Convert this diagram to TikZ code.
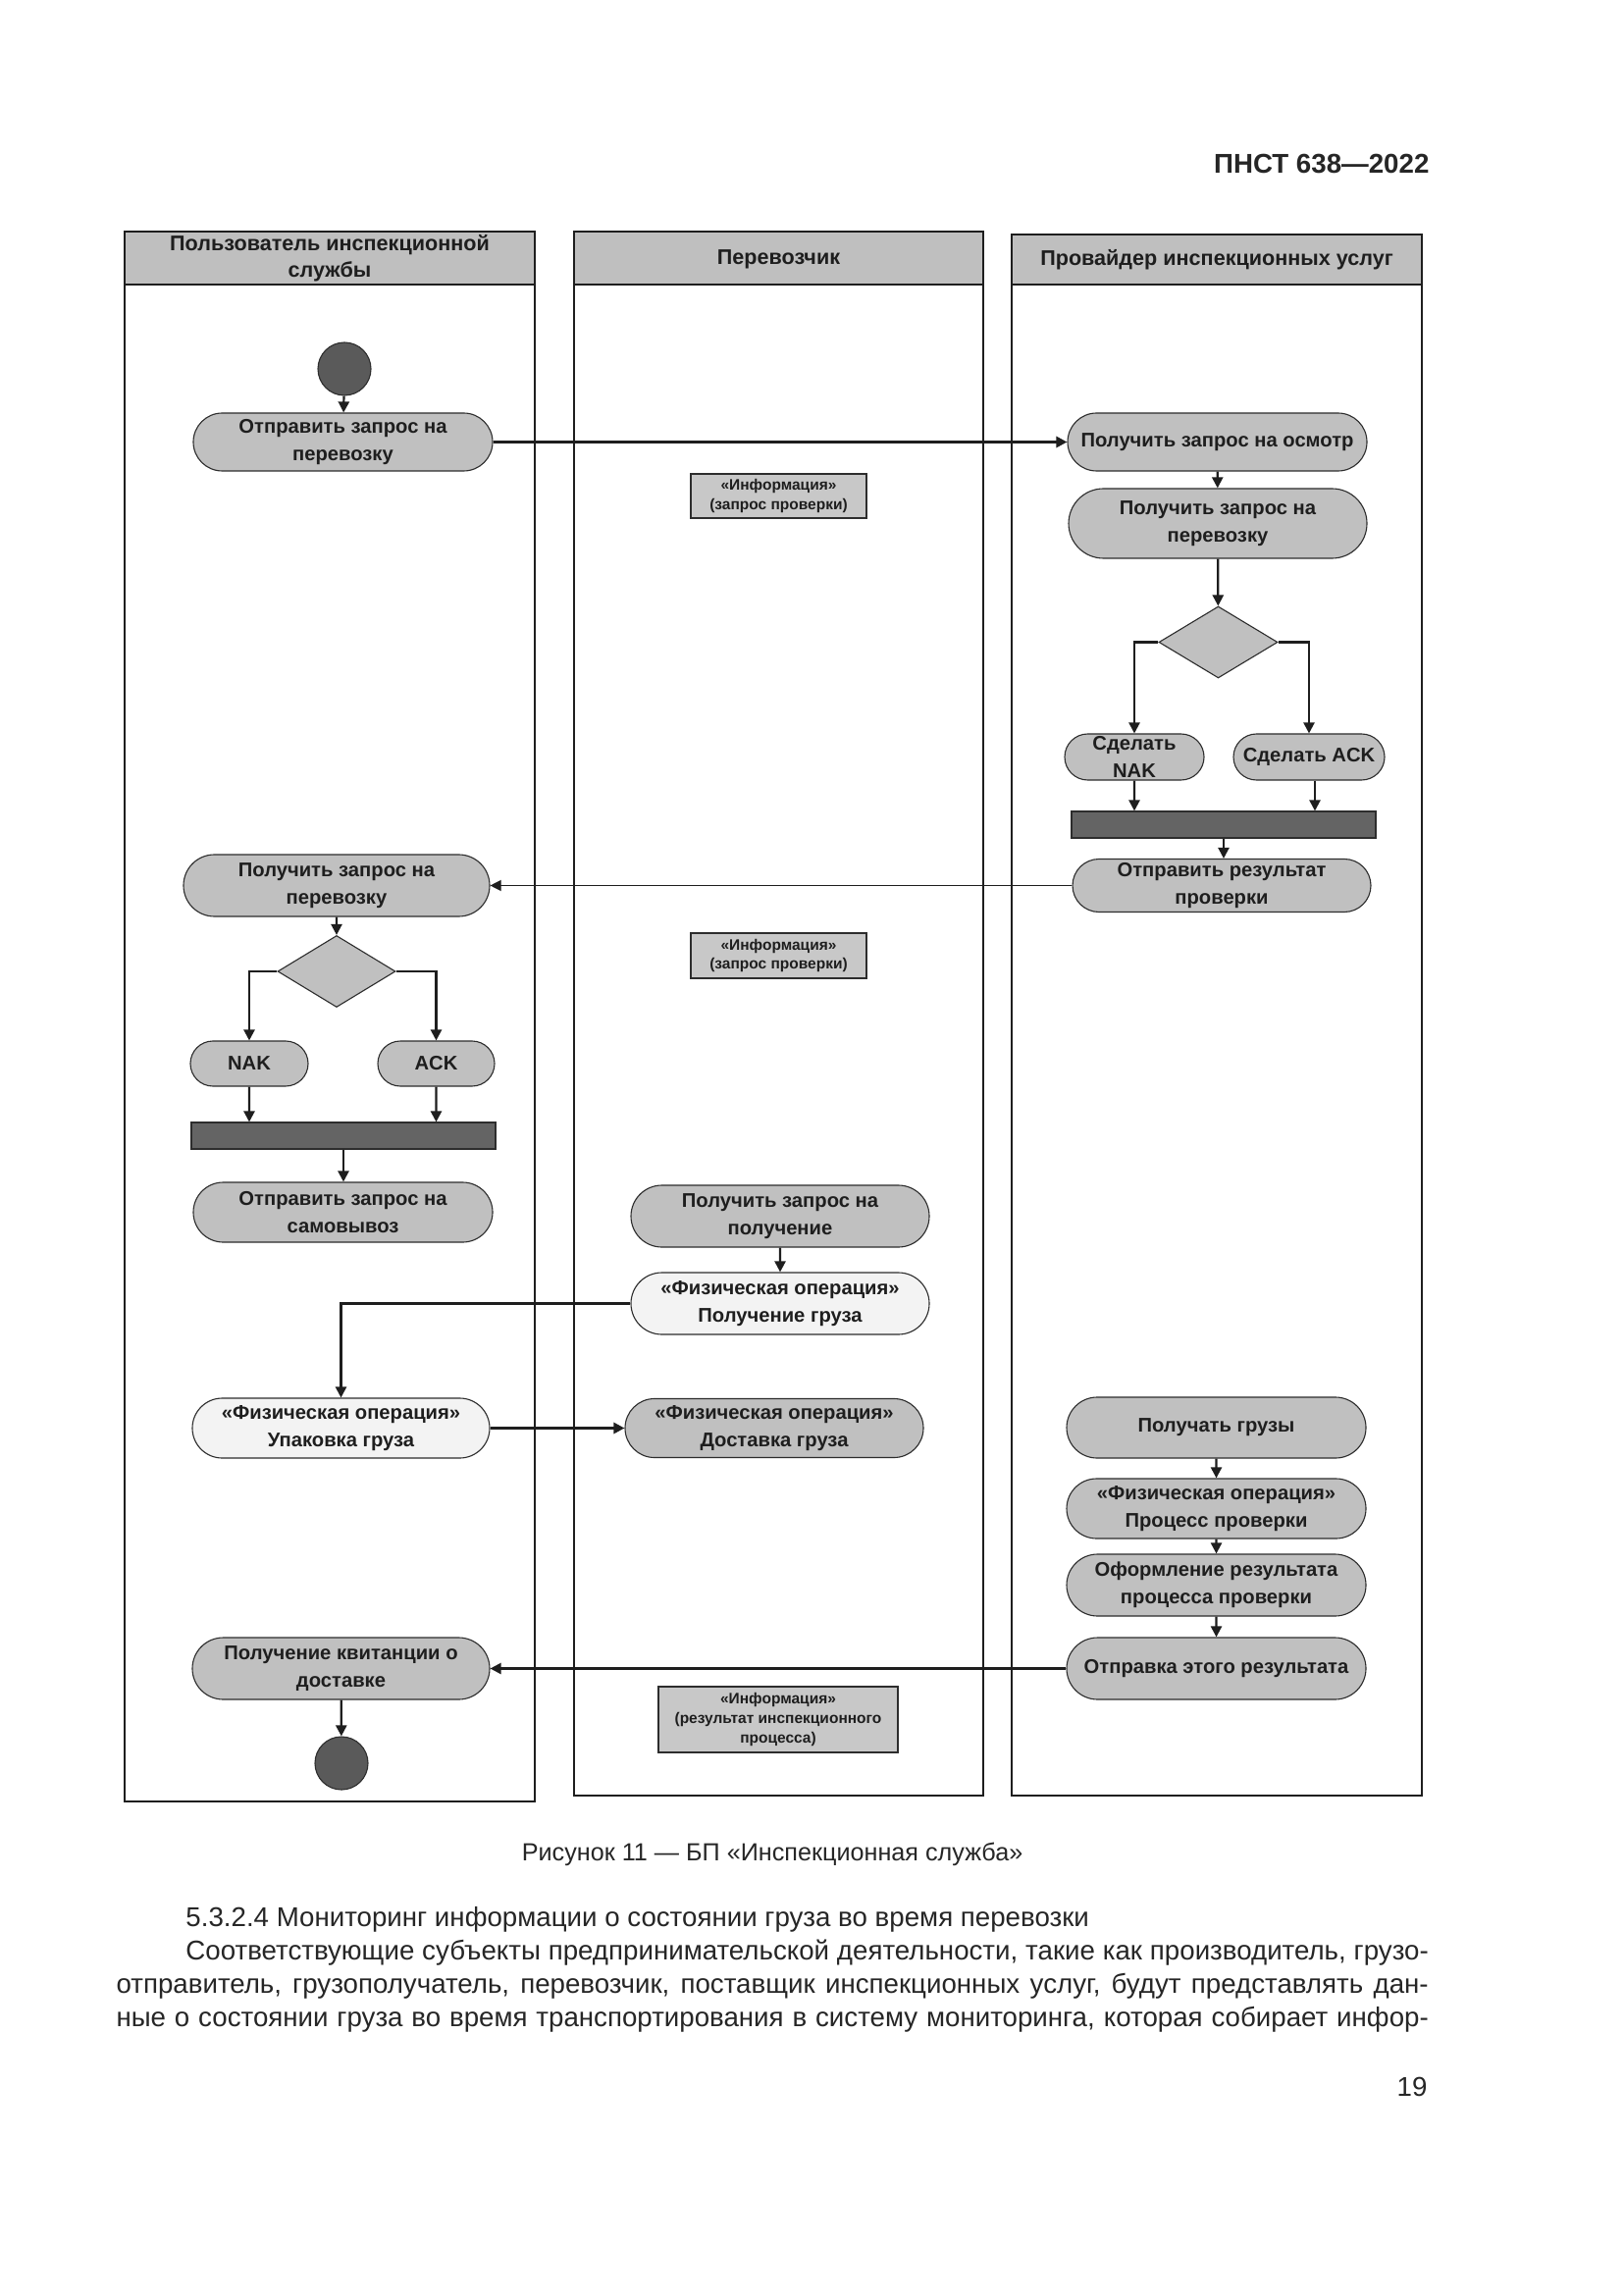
\documentclass[tikz,border=0pt]{standalone}
\usepackage{fontspec}
\setmainfont{Liberation Sans}
\usetikzlibrary{shapes.misc,shapes.geometric,arrows.meta,calc}
\def\ppx{0.3612pt}
\definecolor{nodegray}{RGB}{192,192,192}
\definecolor{hdrgray}{RGB}{191,191,191}
\definecolor{infogray}{RGB}{200,200,200}
\definecolor{bargray}{RGB}{100,100,100}
\definecolor{dotgray}{RGB}{90,90,90}
\definecolor{lightfill}{RGB}{243,243,243}
\definecolor{edgegray}{RGB}{45,45,45}
\definecolor{inkgray}{RGB}{30,30,30}
\tikzset{
  sz/.style 2 args={minimum width=#1*\ppx, minimum height=#2*\ppx},
  act/.style={rounded rectangle, draw=edgegray, line width=0.4pt, fill=nodegray,
    align=center, inner sep=0pt, text=inkgray, font=\fontsize{7.3}{10}\bfseries\selectfont},
  actw/.style={act, fill=lightfill},
  info/.style={rectangle, draw=edgegray, line width=0.5pt, fill=infogray, align=center,
    inner sep=0pt, text=inkgray, font=\fontsize{5.6}{7.2}\bfseries\selectfont},
  syncbar/.style={rectangle, draw=edgegray, line width=0.4pt, fill=bargray, inner sep=0pt},
  decision/.style={diamond, draw=edgegray, line width=0.4pt, fill=nodegray, inner sep=0pt},
  dot/.style={circle, draw=edgegray, line width=0.4pt, fill=dotgray, inner sep=0pt, minimum size=54*\ppx},
  hdrbox/.style={draw=inkgray, line width=0.6pt, fill=hdrgray},
  lanebody/.style={draw=inkgray, line width=1pt},
  hdrtext/.style={align=center, inner sep=0pt, text=inkgray, font=\fontsize{7.8}{9.8}\bfseries\selectfont},
  arr/.style={-{Triangle[length=4pt,width=4pt]}, line width=0.8pt, draw=inkgray},
  arrthick/.style={arr, line width=1.2pt},
  arrthin/.style={arr, line width=0.45pt},
  pagetext/.style={inner sep=0pt, text=black!85}
}
\begin{document}
\begin{tikzpicture}[x=0.3612pt, y=-0.3612pt]
\fill[white] (0,0) rectangle (1654,2339);
\useasboundingbox (0,0) rectangle (1654,2339);

% page texts
\node[pagetext, anchor=east, font=\fontsize{10}{12}\bfseries\selectfont] (std) at (1457,167) {ПНСТ 638—2022};

% swimlanes
\draw[hdrbox] (127,236) rectangle (545,290);
\draw[lanebody] (127,290) rectangle (545,1836);
\draw[hdrbox] (585,236) rectangle (1002,290);
\draw[lanebody] (585,290) rectangle (1002,1830);
\draw[hdrbox] (1031,239) rectangle (1449,290);
\draw[lanebody] (1031,290) rectangle (1449,1830);

\node[hdrtext] (h1) at (336,263) {Пользователь инспекционной\\службы};
\node[hdrtext] (h2) at (793.5,264) {Перевозчик};
\node[hdrtext] (h3) at (1240,265) {Провайдер инспекционных услуг};

% lane 1
\node[dot] (start) at (351,376) {};
\node[act, sz={305}{59}] (A1) at (349.5,450.5) {Отправить запрос на\\перевозку};
\node[act, sz={312}{63}] (A2) at (343,902.5) {Получить запрос на\\перевозку};
\node[decision, sz={120}{73}] (DA) at (343,990) {};
\node[act, sz={120}{46}] (NAK1) at (254,1084) {NAK};
\node[act, sz={119}{46}] (ACK1) at (444.5,1084) {ACK};
\node[syncbar, sz={310}{27}] (Bar1) at (350,1157.5) {};
\node[act, sz={305}{61}] (A3) at (349.5,1235.5) {Отправить запрос на\\самовывоз};
\node[actw, sz={303}{61}] (A4) at (347.5,1455.5) {«Физическая операция»\\Упаковка груза};
\node[act, sz={303}{63}] (A5) at (347.5,1700.5) {Получение квитанции о\\доставке};
\node[dot] (end) at (348,1797) {};

% lane 2
\node[info, sz={179}{45}] (I1) at (793.5,505.5) {«Информация»\\(запрос проверки)};
\node[info, sz={179}{46}] (I2) at (793.5,974) {«Информация»\\(запрос проверки)};
\node[act, sz={304}{63}] (B1) at (795,1239.5) {Получить запрос на\\получение};
\node[actw, sz={304}{63}] (B2) at (795,1328.5) {«Физическая операция»\\Получение груза};
\node[act, sz={304}{60}] (B3) at (789,1455.5) {«Физическая операция»\\Доставка груза};
\node[info, sz={244}{67}] (I3) at (793,1752.5) {«Информация»\\(результат инспекционного\\процесса)};

% lane 3
\node[act, sz={305}{59}] (C1) at (1240.5,450.5) {Получить запрос на осмотр};
\node[act, sz={304}{71}] (C2) at (1241,533.5) {Получить запрос на\\перевозку};
\node[decision, sz={121}{73}] (DC) at (1241.5,654.5) {};
\node[act, sz={142}{47}] (NAK3) at (1156,771.5) {Сделать\\NAK};
\node[act, sz={154}{47}] (ACK3) at (1334,771.5) {Сделать ACK};
\node[syncbar, sz={310}{27}] (Bar3) at (1247,840.5) {};
\node[act, sz={304}{54}] (C5) at (1245,902.5) {Отправить результат\\проверки};
\node[act, sz={305}{62}] (C6) at (1239.5,1455) {Получать грузы};
\node[act, sz={305}{61}] (C7) at (1239.5,1537.5) {«Физическая операция»\\Процесс проверки};
\node[act, sz={305}{63}] (C8) at (1239.5,1615.5) {Оформление результата\\процесса проверки};
\node[act, sz={305}{63}] (C9) at (1239.5,1700.5) {Отправка этого результата};

% connectors
\draw[arr] (start) -- (A1);
\draw[arrthick] (A1.east) -- (C1.west);
\draw[arr] (C1) -- (C2);
\draw[arr] (C2) -- (DC);
\draw[arr] (DC.west) -| (NAK3.north);
\draw[arr] (DC.east) -| (ACK3.north);
\draw[arr] (NAK3) -- (NAK3 |- Bar3.north);
\coordinate (ackb) at ([xshift=6*\ppx]ACK3.south);
\draw[arr] (ackb) -- (ackb |- Bar3.north);
\draw[arr] (Bar3.south) -- (Bar3.south |- C5.north);
\draw[arrthin] (C5.west) -- (A2.east);
\draw[arr] (A2) -- (DA);
\draw[arr] (DA.west) -| (NAK1.north);
\draw[arr] (DA.east) -| (ACK1.north);
\draw[arr] (NAK1) -- (NAK1 |- Bar1.north);
\draw[arr] (ACK1) -- (ACK1 |- Bar1.north);
\draw[arr] (Bar1.south) -- (Bar1.south |- A3.north);
\draw[arr] (B1) -- (B2);
\draw[arr] (B2.west) -| (A4.north);
\draw[arrthick] (A4.east) -- (B3.west);
\draw[arr] (C6) -- (C7);
\draw[arr] (C7) -- (C8);
\draw[arr] (C8) -- (C9);
\draw[arr] (C9.west) -- (A5.east);
\draw[arr] (A5) -- (end);

% caption and body text
\node[pagetext, font=\fontsize{9.1}{11}\selectfont] (cap) at (787,1890) {Рисунок 11 — БП «Инспекционная служба»};
\node[pagetext, anchor=base west, font=\fontsize{10}{12.3}\selectfont] (para) at (118,1963)
{\parbox[t]{483pt}{\setlength{\parindent}{25.6pt}\setlength{\parskip}{0pt}\hyphenpenalty=10000
5.3.2.4 Мониторинг информации о состоянии груза во время перевозки\par
{\parfillskip=0pt Соответствующие субъекты предпринимательской деятельности, такие как производитель, грузо-\linebreak
отправитель, грузополучатель, перевозчик, поставщик инспекционных услуг, будут представлять дан-\linebreak
ные о состоянии груза во время транспортирования в систему мониторинга, которая собирает инфор-\par}}};
\node[pagetext, anchor=east, font=\fontsize{10}{12}\selectfont] (pno) at (1455,2127) {19};
\end{tikzpicture}
\end{document}
